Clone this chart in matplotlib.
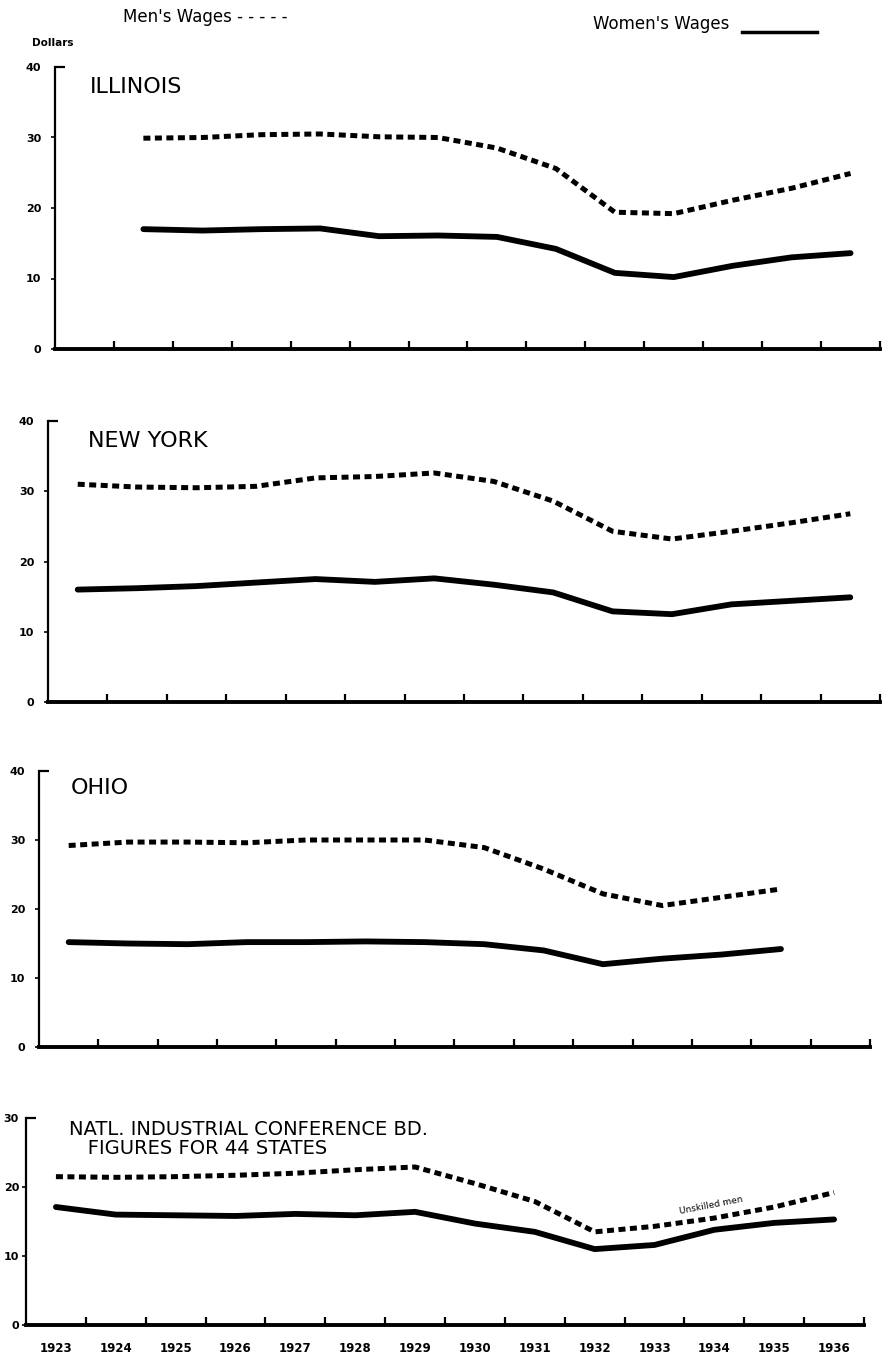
import matplotlib.pyplot as plt
import numpy as np
from matplotlib.lines import Line2D

plt.rcParams['font.family'] = ['DejaVu Sans']

# --- Data (weekly wages, dollars) ---
years = [1923, 1924, 1925, 1926, 1927, 1928, 1929, 1930, 1931, 1932, 1933, 1934, 1935, 1936]
nan = np.nan

il_men = [nan, 29.9, 30.0, 30.4, 30.5, 30.1, 30.0, 28.5, 25.6, 19.4, 19.2, 21.1, 22.8, 24.9]
il_women = [nan, 17.0, 16.8, 17.0, 17.1, 16.0, 16.1, 15.9, 14.2, 10.8, 10.2, 11.8, 13.0, 13.6]

ny_men = [31.0, 30.6, 30.5, 30.7, 31.9, 32.1, 32.6, 31.4, 28.6, 24.3, 23.2, 24.3, 25.5, 26.8]
ny_women = [16.0, 16.2, 16.5, 17.0, 17.5, 17.1, 17.6, 16.7, 15.6, 12.9, 12.5, 13.9, 14.4, 14.9]

oh_men = [29.2, 29.7, 29.7, 29.6, 30.0, 30.0, 30.0, 28.9, 25.8, 22.2, 20.5, 21.7, 22.9, nan]
oh_women = [15.2, 15.0, 14.9, 15.2, 15.2, 15.3, 15.2, 14.9, 14.0, 12.0, 12.8, 13.4, 14.2, nan]

us_men = [21.5, 21.4, 21.5, 21.7, 22.0, 22.5, 22.9, 20.5, 17.9, 13.5, 14.3, 15.5, 17.1, 19.2]
us_women = [17.1, 16.0, 15.9, 15.8, 16.1, 15.9, 16.4, 14.7, 13.5, 11.0, 11.6, 13.8, 14.8, 15.3]

titles = ["ILLINOIS", "NEW YORK", "OHIO", "NATL. INDUSTRIAL CONFERENCE BD.\n   FIGURES FOR 44 STATES"]
ymax = [40, 40, 40, 30]

# panel boxes in pixels: left, right, top (ymax), bottom (0)
W, H = 892, 1358
boxes = [(55, 880, 67, 349), (48, 880, 421, 702), (39, 870, 771, 1047), (26, 864, 1118, 1325)]
title_pos = [(90, 87), (88, 441), (71, 788), (69, 1139)]
label_pad = [7, 7, 7, 2]

series = [(il_men, il_women), (ny_men, ny_women), (oh_men, oh_women), (us_men, us_women)]

fig = plt.figure(figsize=(W / 100, H / 100), dpi=100)

x = np.arange(len(years)) + 0.5

for i, (box, (men, women)) in enumerate(zip(boxes, series)):
    l, r, t, b = box
    ax = fig.add_axes([l / W, 1 - b / H, (r - l) / W, (b - t) / H])
    ax.plot(x, men, color='black', lw=3.6, ls=(0, (1.4, 0.9)), dash_capstyle='butt')
    ax.plot(x, women, color='black', lw=4.2, solid_capstyle='round')
    ax.set_xlim(0, len(years))
    ax.set_ylim(0, ymax[i])
    ax.spines['top'].set_visible(False)
    ax.spines['right'].set_visible(False)
    ax.spines['left'].set_linewidth(1.6)
    ax.spines['bottom'].set_linewidth(2.8)

    # y ticks: lower ones point out, the top one is a cap pointing in
    yt = list(range(0, ymax[i], 10))
    ax.set_yticks(yt)
    ax.set_yticklabels([str(v) for v in yt])
    ax.set_yticks([ymax[i]], minor=True)
    ax.set_yticklabels([str(ymax[i])], minor=True)
    ax.tick_params(axis='y', which='major', direction='out', length=3, width=1.2,
                   pad=label_pad[i], labelsize=8)
    ax.tick_params(axis='y', which='minor', direction='in', length=7, width=1.6,
                   pad=label_pad[i] + 3, labelsize=8)
    for lab in ax.get_yticklabels(which='both'):
        lab.set_fontweight('bold')

    # x ticks at year boundaries, labels centred on each year
    ax.set_xticks(np.arange(1, len(years) + 1))
    ax.set_xticklabels([])
    ax.tick_params(axis='x', which='major', direction='in', length=6, width=1.6)
    ax.set_xticks(x, minor=True)
    if i == 3:
        ax.set_xticklabels([str(y) for y in years], minor=True, fontsize=8.5,
                           fontweight='bold')
        ax.tick_params(axis='x', which='minor', length=0, pad=12)
        ax.text(11.45, 17.4, "Unskilled men", fontsize=6.5, rotation=11,
                ha='center', va='center')
    else:
        ax.set_xticklabels([], minor=True)
        ax.tick_params(axis='x', which='minor', length=0)

    tx, ty = title_pos[i]
    fs = 16 if i < 3 else 14
    fig.text(tx / W, 1 - ty / H, titles[i], fontsize=fs, ha='left', va='center',
             linespacing=1.05)

# legend / header text
fig.text(123 / W, 1 - 17 / H, "Men's Wages - - - - -", fontsize=12, fontweight='medium',
         ha='left', va='center')
fig.text(593 / W, 1 - 24 / H, "Women's Wages", fontsize=12, fontweight='medium',
         ha='left', va='center')
fig.add_artist(Line2D([742 / W, 817 / W], [1 - 32 / H, 1 - 32 / H], color='black', lw=2.5))
fig.text(32 / W, 1 - 43 / H, "Dollars", fontsize=7.5, fontweight='bold', ha='left', va='center')

fig.savefig("out.png", dpi=100)
